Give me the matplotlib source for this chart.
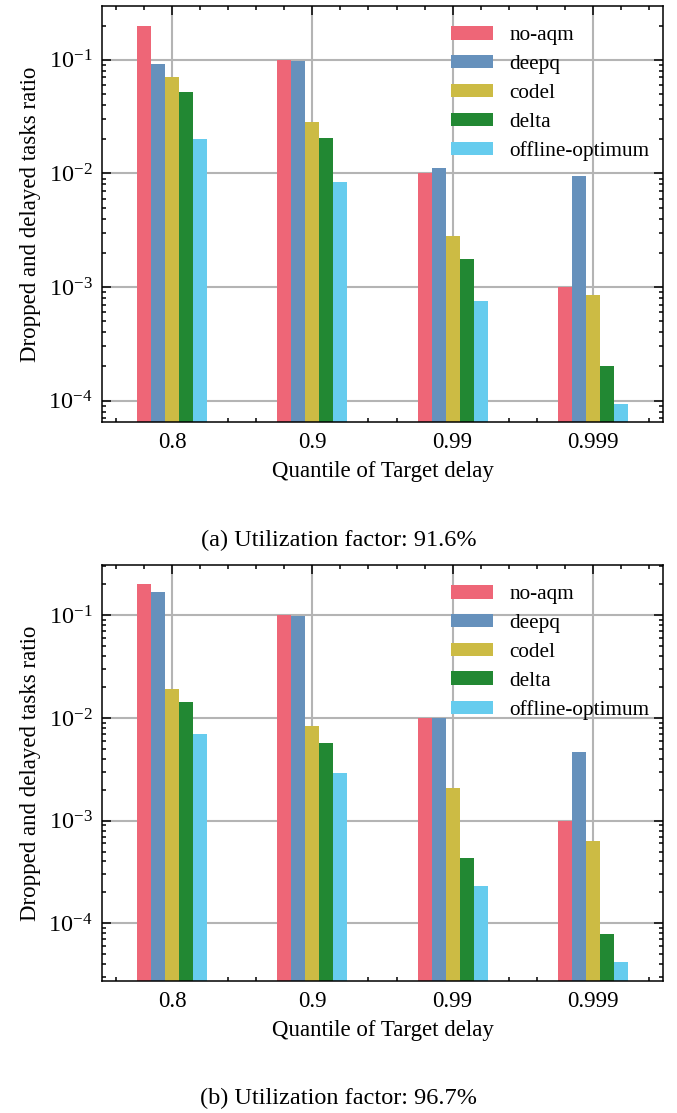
import numpy as np
import matplotlib
matplotlib.use("Agg")
import matplotlib.pyplot as plt
from matplotlib.ticker import AutoMinorLocator, LogLocator

plt.rcParams["font.family"] = ["Liberation Serif", "DejaVu Serif"]
plt.rcParams["mathtext.fontset"] = "stix"

quantiles = ["0.8", "0.9", "0.99", "0.999"]
methods = ["no-aqm", "deepq", "codel", "delta", "offline-optimum"]
colors = ["#EE6677", "#6691BC", "#CCBB44", "#228833", "#66CCEE"]

# (a) utilization factor 91.6%
no_aqm_a = [0.2, 0.1, 0.01, 0.001]
deepq_a = [0.092, 0.097, 0.0111, 0.0094]
codel_a = [0.071, 0.0284, 0.0028, 0.000845]
delta_a = [0.0515, 0.0203, 0.00177, 0.000203]
offline_a = [0.0199, 0.0084, 0.000758, 9.35e-5]

# (b) utilization factor 96.7%
no_aqm_b = [0.2, 0.1, 0.01, 0.001]
deepq_b = [0.169, 0.098, 0.0100, 0.00463]
codel_b = [0.019, 0.00836, 0.0021, 0.000634]
delta_b = [0.0142, 0.0057, 0.00043, 7.8e-5]
offline_b = [0.00693, 0.00293, 0.000233, 4.17e-5]

captions = ["(a) Utilization factor: 91.6%", "(b) Utilization factor: 96.7%"]

FS = 16.5


def draw_panel(ax, series, ylim):
    x = np.arange(len(quantiles))
    w = 0.1
    ax.set_yscale("log")
    for i, (vals, name, c) in enumerate(zip(series, methods, colors)):
        ax.bar(x + (i - 2) * w, vals, width=w, color=c, label=name)
    ax.set_xlim(-0.5, 3.5)
    ax.set_ylim(*ylim)
    ax.set_xticks(x)
    ax.set_xticklabels(quantiles)
    ax.xaxis.set_minor_locator(AutoMinorLocator(5))
    ax.yaxis.set_major_locator(LogLocator(base=10, numticks=10))
    ax.yaxis.set_minor_locator(LogLocator(base=10, subs=np.arange(2, 10), numticks=20))
    ax.set_axisbelow(True)
    ax.grid(True, which="major", color="#b4b4b4", linewidth=1.5)
    ax.tick_params(which="both", direction="in", top=True, right=True,
                   labelsize=FS, width=1.1, pad=7)
    ax.tick_params(axis="y", labelsize=17.5)
    ax.tick_params(which="major", length=6.5)
    ax.tick_params(which="minor", length=3.2)
    for s in ax.spines.values():
        s.set_linewidth(1.1)
    ax.set_xlabel("Quantile of Target delay", fontsize=FS, labelpad=6)
    ax.set_ylabel("Dropped and delayed tasks ratio", fontsize=FS, labelpad=5)
    ax.legend(loc="upper right", bbox_to_anchor=(1.0054, 0.99), frameon=False,
              fontsize=15.3, handlelength=1.95, handleheight=0.6,
              handletextpad=0.8, labelspacing=0.45, borderaxespad=0.35)


fig = plt.figure(figsize=(6.77, 11.13), dpi=100)
ax1 = fig.add_axes([0.151, 0.6206, 0.828, 0.374])
ax2 = fig.add_axes([0.151, 0.1186, 0.828, 0.3738])

draw_panel(ax1, [no_aqm_a, deepq_a, codel_a, delta_a, offline_a], (6.44e-5, 0.297))
draw_panel(ax2, [no_aqm_b, deepq_b, codel_b, delta_b, offline_b], (2.74e-5, 0.309))

fig.text(0.5, 1 - 540 / 1113, captions[0], ha="center", va="center", fontsize=17.5)
fig.text(0.5, 1 - 1098 / 1113, captions[1], ha="center", va="center", fontsize=17.5)

fig.savefig("out.png", dpi=100)
